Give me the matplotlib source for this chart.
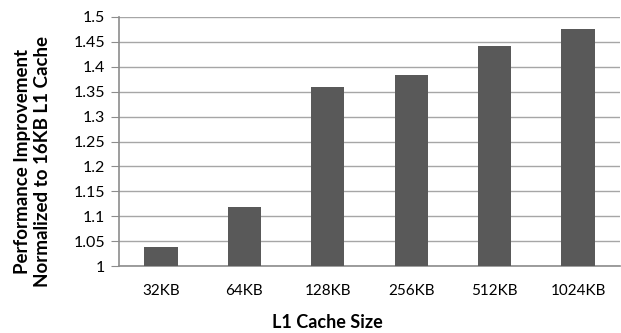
import matplotlib.pyplot as plt
import numpy as np

plt.rcParams['font.family'] = ['Lato', 'DejaVu Sans']

sizes = ['32KB', '64KB', '128KB', '256KB', '512KB', '1024KB']
improvement = [1.039, 1.119, 1.360, 1.383, 1.441, 1.476]

fig = plt.figure(figsize=(6.21, 3.33), dpi=100)
ax = fig.add_axes([0.192, 0.201, 0.806, 0.748])

x = np.arange(len(sizes))
ax.bar(x, improvement, width=0.4, bottom=0, color='#595959', zorder=3)

ax.set_xlim(-0.5, len(sizes) - 0.5)
ax.set_ylim(1, 1.5)
ax.set_yticks(np.arange(1, 1.501, 0.05))
ax.set_yticklabels(['1', '1.05', '1.1', '1.15', '1.2', '1.25', '1.3', '1.35',
                    '1.4', '1.45', '1.5'])
ax.set_xticks(x)
ax.set_xticklabels(sizes)
ax.tick_params(axis='y', length=6, color='#8c8c8c', labelsize=11.5, pad=4)
ax.tick_params(axis='x', length=0, labelsize=11, pad=13)

ax.grid(axis='y', color='#a6a6a6', linewidth=1, zorder=0)
for s in ['top', 'right']:
    ax.spines[s].set_visible(False)
ax.spines['left'].set_color('#8c8c8c')
ax.spines['bottom'].set_color('#8c8c8c')
ax.spines['left'].set_linewidth(1.2)
ax.spines['bottom'].set_linewidth(1.2)

fig.text(0.052, 0.514, 'Performance Improvement\nNormalized to 16KB L1 Cache',
         fontsize=13.5, fontweight='bold', rotation=90, ha='center',
         va='center', linespacing=1.25)
fig.text(0.527, 0.033, 'L1 Cache Size', fontsize=13, fontweight='bold',
         ha='center', va='center')

fig.savefig('out.png', dpi=100)
